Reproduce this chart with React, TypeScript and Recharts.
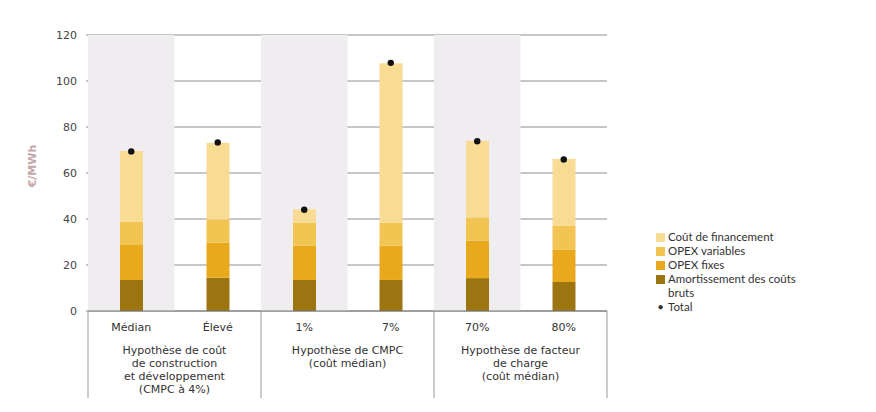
import React from 'react';
import {
  ComposedChart, Bar, Line, XAxis, YAxis, CartesianGrid, ReferenceArea, Legend,
} from 'recharts';

const categories = ['Médian', 'Élevé', '1%', '7%', '70%', '80%'];
const amortissement = [13.5, 14.5, 13.5, 13.5, 14.3, 12.6];
const opexFixes = [15.2, 15.2, 14.9, 14.9, 16.3, 14.2];
const opexVariables = [10.1, 10.1, 10.0, 10.0, 10.1, 10.2];
const financement = [30.8, 33.4, 5.8, 69.3, 33.3, 29.1];
const totals = [69.4, 73.3, 44.0, 107.9, 73.8, 65.9];

const groupStarts = [0, 2, 4];
const groupSpans = [2, 2, 2];
const groupLabels = [
  ['Hypothèse de coût', 'de construction', 'et développement', '(CMPC à 4%)'],
  ['Hypothèse de CMPC', '(coût médian)'],
  ['Hypothèse de facteur', 'de charge', '(coût médian)'],
];
const shadedCategories = ['Médian', '1%', '70%'];
const yTicks = [0, 20, 40, 60, 80, 100, 120];
const legendOrder = ['financement', 'variables', 'fixes', 'amort', 'total'];

const seriesNames = {
  amort: 'Amortissement des coûts bruts',
  fixes: 'OPEX fixes',
  variables: 'OPEX variables',
  financement: 'Coût de financement',
  total: 'Total',
};
const COLORS = {
  amort: '#9c7410',
  fixes: '#e9a91c',
  variables: '#f2c452',
  financement: '#f8dc93',
};

const data = categories.map((name, i) => ({
  name,
  amort: amortissement[i],
  fixes: opexFixes[i],
  variables: opexVariables[i],
  financement: financement[i],
  total: totals[i],
}));

const CHART_W = 860;
const CHART_H = 400;
const MARGIN = { top: 27, right: 261, bottom: 5, left: 10 };
const YAXIS_W = 70;
const PLOT_W = CHART_W - MARGIN.left - MARGIN.right - YAXIS_W;
const BAND = PLOT_W / categories.length;

const AXIS_FONT = '"DejaVu Sans", sans-serif';

function XTick(props: any) {
  const { x, y, payload, index } = props;
  const half = BAND / 2;
  const g = groupStarts.indexOf(index);
  const isLast = index === categories.length - 1;
  return (
    <g>
      <text x={x} y={y + 16} textAnchor="middle" dominantBaseline="central"
        fontFamily={AXIS_FONT} fontSize={11} fill="#333">{payload.value}</text>
      {g >= 0 && (
        <>
          <line x1={x - half} x2={x - half} y1={y} y2={y + 87} stroke="#999" strokeWidth={1} />
          {groupLabels[g].map((line, k) => (
            <text key={k} x={x - half + (groupSpans[g] * BAND) / 2} y={y + 39 + k * 13}
              textAnchor="middle" dominantBaseline="central"
              fontFamily={AXIS_FONT} fontSize={11} fill="#333">{line}</text>
          ))}
        </>
      )}
      {isLast && (
        <line x1={x + half} x2={x + half} y1={y} y2={y + 87} stroke="#999" strokeWidth={1} />
      )}
    </g>
  );
}

function YLabel(props: any) {
  const { viewBox } = props;
  const cx = viewBox.x + 14;
  const cy = viewBox.y + viewBox.height / 2 - 7;
  return (
    <text x={cx} y={cy} transform={`rotate(-90, ${cx}, ${cy})`} textAnchor="middle"
      dominantBaseline="central" fontFamily={AXIS_FONT} fontSize={11} fontWeight={700} fill="#c4a5a8">
      €/MWh
    </text>
  );
}

function LegendContent(props: any) {
  const payload = props.payload || [];
  const items = legendOrder
    .map((k) => payload.find((p: any) => p.dataKey === k))
    .filter(Boolean);
  return (
    <div style={{ fontFamily: 'Lato, sans-serif', fontSize: 11.5, color: '#333', lineHeight: '14px' }}>
      {items.map((p: any) => (
        <div key={p.dataKey} style={{ display: 'flex', alignItems: 'flex-start' }}>
          {p.dataKey === 'total' ? (
            <span style={{ width: 9, marginRight: 3, textAlign: 'center', flexShrink: 0 }}>•</span>
          ) : (
            <span style={{ width: 9, height: 9, background: p.color, marginTop: 2.5, marginRight: 3, flexShrink: 0 }} />
          )}
          <span style={{ width: 134 }}>{p.value}</span>
        </div>
      ))}
    </div>
  );
}

export default function App() {
  return (
    <div style={{ width: CHART_W, height: CHART_H, position: 'relative' }}>
      <ComposedChart width={CHART_W} height={CHART_H} data={data} margin={MARGIN}>
        {shadedCategories.map((c) => (
          <ReferenceArea key={c} x1={c} x2={c} fill="#efedf0" fillOpacity={1} stroke="none" ifOverflow="visible" />
        ))}
        <CartesianGrid vertical={false} stroke="#8e8e8e" strokeWidth={1} />
        <XAxis dataKey="name" interval={0} tickSize={0} tickMargin={0} tickLine={false}
          axisLine={{ stroke: '#777' }} height={92} tick={<XTick />} />
        <YAxis domain={[0, 120]} ticks={yTicks} width={YAXIS_W} axisLine={false}
          tickSize={2} tickMargin={9} tickLine={{ stroke: '#8e8e8e' }}
          tick={{ fontFamily: AXIS_FONT, fontSize: 11, fill: '#444' }}
          label={<YLabel />} />
        <Bar dataKey="amort" name={seriesNames.amort} stackId="a" fill={COLORS.amort} barSize={23} isAnimationActive={false} />
        <Bar dataKey="fixes" name={seriesNames.fixes} stackId="a" fill={COLORS.fixes} barSize={23} isAnimationActive={false} />
        <Bar dataKey="variables" name={seriesNames.variables} stackId="a" fill={COLORS.variables} barSize={23} isAnimationActive={false} />
        <Bar dataKey="financement" name={seriesNames.financement} stackId="a" fill={COLORS.financement} barSize={23} isAnimationActive={false} />
        <Line dataKey="total" name={seriesNames.total} stroke="none" legendType="circle"
          dot={{ r: 3.2, fill: '#111', stroke: 'none' }} activeDot={false} isAnimationActive={false} />
        <Legend layout="vertical" align="center" verticalAlign="middle"
          wrapperStyle={{ position: 'absolute', left: 648, top: 222, width: 200 }}
          content={<LegendContent />} />
      </ComposedChart>
    </div>
  );
}
